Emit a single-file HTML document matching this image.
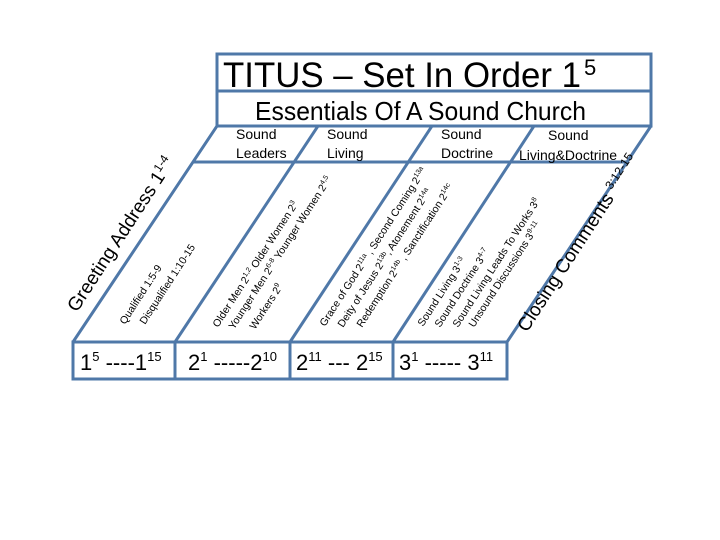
<!DOCTYPE html>
<html><head><meta charset="utf-8"><style>body{margin:0;background:#fff}svg{display:block}</style></head><body>
<svg width="720" height="540" viewBox="0 0 720 540" xmlns="http://www.w3.org/2000/svg" font-family="Liberation Sans, sans-serif" fill="#000">
<g stroke="#4f78a8" stroke-width="3" fill="none">
<rect x="217" y="54" width="434" height="72"/>
<line x1="217" y1="91" x2="651" y2="91"/>
<line x1="193" y1="162" x2="627" y2="162"/>
<line x1="217" y1="126" x2="73" y2="342"/>
<line x1="318" y1="126" x2="175" y2="342"/>
<line x1="432" y1="126" x2="290" y2="342"/>
<line x1="534" y1="126" x2="393" y2="342"/>
<line x1="651" y1="126" x2="507" y2="342"/>
<rect x="73" y="342" width="434" height="37"/>
<line x1="175" y1="342" x2="175" y2="379"/>
<line x1="290" y1="342" x2="290" y2="379"/>
<line x1="393" y1="342" x2="393" y2="379"/>
</g>
<text x="223" y="87" font-size="35" textLength="358" lengthAdjust="spacingAndGlyphs">TITUS – Set In Order 1</text>
<text x="584" y="75" font-size="22">5</text>
<text x="255" y="120" font-size="26" textLength="331" lengthAdjust="spacingAndGlyphs">Essentials Of A Sound Church</text>
<g font-size="14">
<text x="236" y="139">Sound</text><text x="236" y="158">Leaders</text>
<text x="327" y="139">Sound</text><text x="327" y="158">Living</text>
<text x="441" y="139">Sound</text><text x="441" y="158">Doctrine</text>
<text x="548" y="140">Sound</text><text x="519" y="160">Living&amp;Doctrine</text>
</g>
<g font-size="22">
<text x="80" y="370">1<tspan font-size="13" dy="-9">5</tspan><tspan dy="9"> ----1</tspan><tspan font-size="13" dy="-9">15</tspan></text>
<text x="188" y="370">2<tspan font-size="13" dy="-9">1</tspan><tspan dy="9"> -----2</tspan><tspan font-size="13" dy="-9">10</tspan></text>
<text x="296" y="370">2<tspan font-size="13" dy="-9">11</tspan><tspan dy="9"> --- 2</tspan><tspan font-size="13" dy="-9">15</tspan></text>
<text x="399" y="370">3<tspan font-size="13" dy="-9">1</tspan><tspan dy="9"> ----- 3</tspan><tspan font-size="13" dy="-9">11</tspan></text>
</g>
<text transform="translate(77,313) rotate(-57)" font-size="19">Greeting Address 1<tspan font-size="12" dy="-7">1-4</tspan></text>
<text transform="translate(527,333) rotate(-57)" font-size="19">Closing Comments <tspan font-size="12" dy="-7">3:12-15</tspan></text>
<g font-size="10.5">
<text transform="translate(125,325) rotate(-57)">Qualified 1:5-9</text>
<text transform="translate(145,325) rotate(-57)">Disqualified 1:10-15</text>
<text transform="translate(218,328) rotate(-57)">Older Men 2<tspan font-size="7" dy="-4">1,2</tspan><tspan dy="4">   Older Women 2</tspan><tspan font-size="7" dy="-4">3</tspan></text>
<text transform="translate(234,330) rotate(-57)">Younger Men 2<tspan font-size="7" dy="-4">6-8</tspan><tspan dy="4"> Younger Women 2</tspan><tspan font-size="7" dy="-4">4,5</tspan></text>
<text transform="translate(255,330) rotate(-57)">Workers 2<tspan font-size="7" dy="-4">9</tspan></text>
<text transform="translate(325,327) rotate(-57)">Grace of God 2<tspan font-size="7" dy="-4">11a</tspan><tspan dy="4"> , Second Coming 2</tspan><tspan font-size="7" dy="-4">13a</tspan></text>
<text transform="translate(343,328) rotate(-57)">Deity of Jesus 2<tspan font-size="7" dy="-4">13b</tspan><tspan dy="4">, Atonement 2</tspan><tspan font-size="7" dy="-4">14a</tspan></text>
<text transform="translate(362,328) rotate(-57)">Redemption 2<tspan font-size="7" dy="-4">14b</tspan><tspan dy="4"> , Sanctification 2</tspan><tspan font-size="7" dy="-4">14c</tspan></text>
<text transform="translate(423,327) rotate(-57)">Sound Living 3<tspan font-size="7" dy="-4">1-3</tspan></text>
<text transform="translate(440,328) rotate(-57)">Sound Doctrine 3<tspan font-size="7" dy="-4">4-7</tspan></text>
<text transform="translate(458,328) rotate(-57)">Sound  Living Leads To Works 3<tspan font-size="7" dy="-4">8</tspan></text>
<text transform="translate(474,328) rotate(-57)">Unsound Discussions 3<tspan font-size="7" dy="-4">9-11</tspan></text>
</g>
</svg>
</body></html>
